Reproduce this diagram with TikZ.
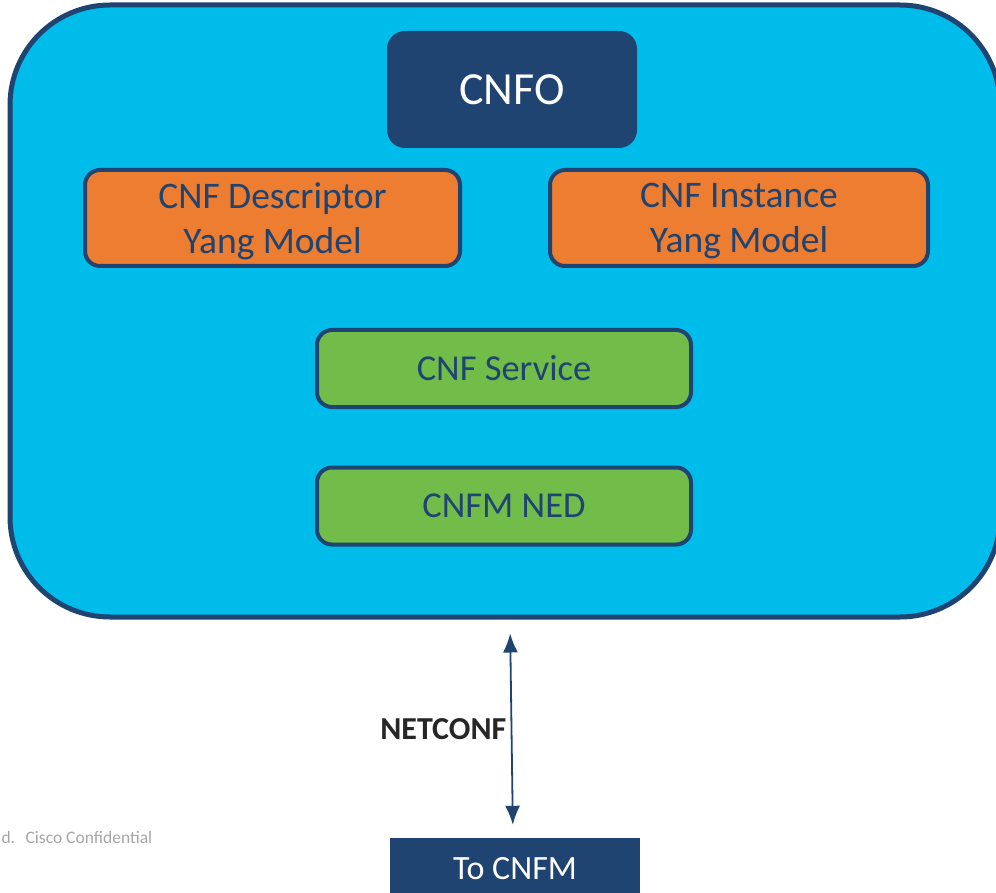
\documentclass[tikz,border=0pt]{standalone}
\usepackage{fontspec}
\setmainfont{Carlito}
\usepackage{tikz}
\usetikzlibrary{arrows.meta,positioning}
\definecolor{cnfnavy}{HTML}{1F4471}
\definecolor{cnfcyan}{HTML}{00BCEA}
\definecolor{cnforange}{HTML}{ED7D31}
\definecolor{cnfgreen}{HTML}{72BD4A}
\tikzset{
	outerbox/.style={
		% The shape:
		rectangle,rounded corners=100pt,
		minimum width=990pt,minimum height=612pt,
		% The border:
		line width=5pt,draw=cnfnavy,
		% The filling:
		fill=cnfcyan,
	}}
\tikzset{
	block/.style={
		% The shape:
		rectangle,rounded corners=15pt,
		% The border:
		line width=4pt,draw=cnfnavy,
		% The text:
		text=cnfnavy,align=center,
	}}
\tikzset{
	yangbox/.style={block,fill=cnforange,minimum height=96pt,
		font=\fontsize{37.5}{45}\selectfont,text depth=0pt},
	nsobox/.style={block,fill=cnfgreen,minimum width=374pt,minimum height=77pt,
		font=\fontsize{36.5}{42}\selectfont},
	dark/.style={rectangle,fill=cnfnavy,text=white},
	link/.style={{Latex[length=19pt,width=15pt]}-{Latex[length=19pt,width=15pt]},
		line width=1.8pt,draw=cnfnavy,shorten <=14pt,shorten >=13pt},
	footer/.style={text=black!35,font=\fontsize{17.5}{20}\selectfont},
}

\begin{document}
\begin{tikzpicture}[x=1pt,y=-1pt]
	\useasboundingbox (0,0) rectangle (996,893);
	\clip (0,0) rectangle (996,893);
	\node[outerbox] (outer) at (505,311) {};
	\node[dark,rounded corners=18pt,minimum width=250pt,minimum height=117pt,
		font=\fontsize{46}{52}\selectfont] (cnfo) at (512,89.5) {CNFO};
	\node[yangbox,minimum width=375pt] (desc) at (272.5,218) {CNF Descriptor\\Yang Model};
	\node[yangbox,minimum width=378pt] (inst) at (739,218) {CNF Instance\\Yang Model};
	\node[nsobox] (svc) at (504,368.5) {CNF Service};
	\node[nsobox] (ned) at (504,506) {CNFM NED};
	\node[dark,minimum width=250pt,minimum height=62pt,
		font=\fontsize{34}{40}\selectfont] (tocnfm) at (515,869) {To CNFM};
	\node[footer,anchor=base west] (conf) at (-2,843) {d.\hspace{0.6em}Cisco Confidential};
	\draw[link] ([xshift=5pt]outer.south) -- ([xshift=-2pt]tocnfm.north)
		node[midway,left=1pt,text=black!85,font=\bfseries\fontsize{32}{36}\selectfont] (nc) {NETCONF};
\end{tikzpicture}
\end{document}
